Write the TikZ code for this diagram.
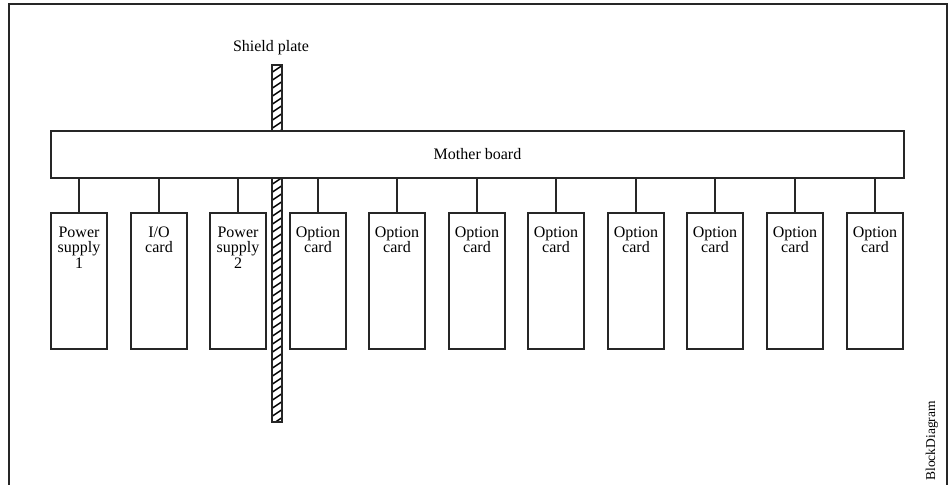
\documentclass[tikz,border=0pt]{standalone}
\usepackage{fontspec}
\setmainfont{Liberation Serif}
\begin{document}
\begin{tikzpicture}[x=1pt,y=-1pt,
  box/.style={draw=black!85, line width=2pt, rectangle, inner sep=0pt},
  card/.style={box, fill=white, minimum width=56pt, minimum height=136pt, anchor=north west,
    label={[anchor=north, align=center, inner sep=0pt, yshift=-14.5pt, font=\fontsize{16}{15.5}\selectfont]north:#1}},
  conn/.style={draw=black!85, line width=2pt},
  txt/.style={font=\fontsize{16}{16}\selectfont, inner sep=0pt}
]
\useasboundingbox (0,0) rectangle (949,484);
% frame
\draw[black!85, line width=2pt] (9,485) -- (9,4) -- (947,4) -- (947,485);
% shield plate
\coordinate (sptop) at (272,65);
\coordinate (spbot) at (282,422);
\begin{scope}
  \clip (sptop) rectangle (spbot);
  \foreach \y in {57,65,...,430} {
    \draw[line width=1.5pt] (271,\y+8) -- (283,\y);
  }
\end{scope}
\draw[black!85, line width=2pt] (sptop) rectangle (spbot);
\node[txt, anchor=base] (splabel) at (271,52) {Shield plate};
% mother board
\node[box, fill=white, minimum width=853pt, minimum height=47pt, anchor=north west] (mb) at (50,130) {};
\node[txt] (mbt) at (mb.center) {Mother board};
% cards
\node[card={Power\\supply\\1}] (c1) at (50,212) {};
\node[card={I/O\\card}] (c2) at (130,212) {};
\node[card={Power\\supply\\2}] (c3) at (209,212) {};
\foreach \i/\x in {3/289,4/368,5/448,6/527,7/607,8/686,9/766,10/846} {
  \node[card={Option\\card}] (c\i x) at (\x,212) {};
}
\foreach \n in {c1,c2,c3,c3x,c4x,c5x,c6x,c7x,c8x,c9x,c10x} {
  \draw[conn] (\n.north) -- (\n.north |- mb.south);
}
\node[font=\fontsize{13.5}{13.5}\selectfont, inner sep=0pt, rotate=90] (bd) at (932,441) {BlockDiagram};
\end{tikzpicture}
\end{document}
